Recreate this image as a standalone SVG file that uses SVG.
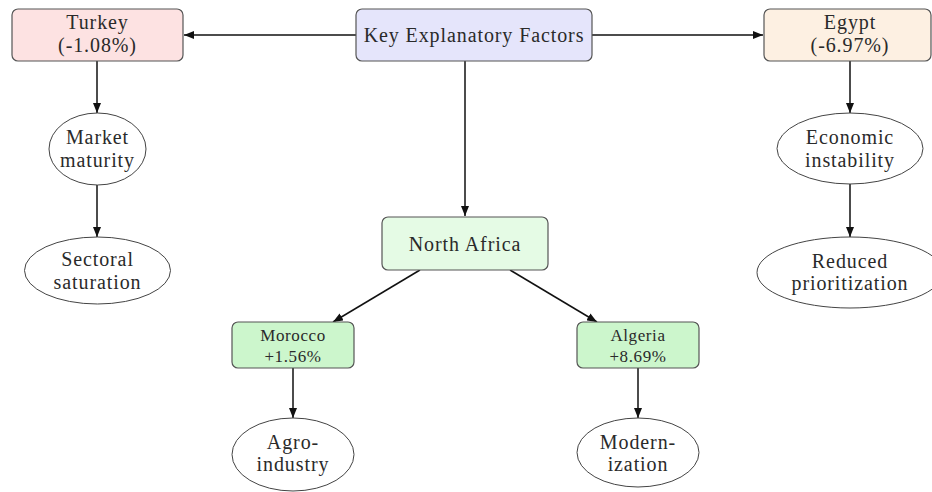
<svg xmlns="http://www.w3.org/2000/svg" width="932" height="492" viewBox="0 0 932 492">
<defs>
<marker id="ah" viewBox="0 0 10 8" refX="10" refY="4" markerWidth="10" markerHeight="8" markerUnits="userSpaceOnUse" orient="auto">
<path d="M0,0 L10,4 L0,8 Z" fill="#111"/>
</marker>
<style>
.box{stroke:#555;stroke-width:1.2}
.ell{fill:#fff;stroke:#444;stroke-width:1}
.t{font-family:"Liberation Serif","DejaVu Serif",serif;font-size:20px;letter-spacing:0.9px;fill:#2a2a2a;text-anchor:middle}
.s{font-size:17px;letter-spacing:0.6px}
.c{fill:none;stroke:#111;stroke-width:1.5;marker-end:url(#ah)}
</style>
</defs>
<rect width="932" height="492" fill="#fff"/>
<g id="connectors">
<line class="c" x1="356" y1="35" x2="184" y2="35"/>
<line class="c" x1="592" y1="35" x2="763" y2="35"/>
<line class="c" x1="465" y1="61" x2="465" y2="216"/>
<line class="c" x1="97" y1="61" x2="97" y2="113"/>
<line class="c" x1="97" y1="185" x2="97" y2="237"/>
<line class="c" x1="850" y1="61" x2="850" y2="113"/>
<line class="c" x1="850" y1="184" x2="850" y2="237"/>
<line class="c" x1="420" y1="270" x2="333" y2="322"/>
<line class="c" x1="510" y1="270" x2="597" y2="322"/>
<line class="c" x1="293" y1="368" x2="293" y2="418"/>
<line class="c" x1="638" y1="368" x2="638" y2="418"/>
</g>
<g id="turkey">
<rect class="box" x="12" y="9" width="171" height="52" rx="6" fill="#fde2e2"/>
<text class="t" x="97.5" y="29">Turkey</text>
<text class="t" x="97.5" y="52">(-1.08%)</text>
</g>
<g id="key">
<rect class="box" x="356" y="9" width="236" height="52" rx="6" fill="#e5e5fb"/>
<text class="t" x="474" y="42">Key Explanatory Factors</text>
</g>
<g id="egypt">
<rect class="box" x="764" y="9" width="167" height="52" rx="6" fill="#fdf0e2"/>
<text class="t" x="850" y="29">Egypt</text>
<text class="t" x="850" y="52">(-6.97%)</text>
</g>
<g id="market">
<ellipse class="ell" cx="97.5" cy="149" rx="48.5" ry="36"/>
<text class="t" x="97.5" y="144">Market</text>
<text class="t" x="97.5" y="167">maturity</text>
</g>
<g id="sectoral">
<ellipse class="ell" cx="97.5" cy="270.5" rx="73" ry="33.5"/>
<text class="t" x="97.5" y="266">Sectoral</text>
<text class="t" x="97.5" y="289">saturation</text>
</g>
<g id="economic">
<ellipse class="ell" cx="850" cy="148.5" rx="73" ry="35.5"/>
<text class="t" x="850" y="144">Economic</text>
<text class="t" x="850" y="167">instability</text>
</g>
<g id="reduced">
<ellipse class="ell" cx="850" cy="272.5" rx="93" ry="35.5"/>
<text class="t" x="850" y="268">Reduced</text>
<text class="t" x="850" y="290">prioritization</text>
</g>
<g id="northafrica">
<rect class="box" x="382" y="217" width="166" height="53" rx="6" fill="#e5fbe5"/>
<text class="t" x="465" y="251">North Africa</text>
</g>
<g id="morocco">
<rect class="box" x="232" y="322" width="122" height="46" rx="6" fill="#ccf6cc"/>
<text class="t s" x="293" y="341">Morocco</text>
<text class="t s" x="293" y="362">+1.56%</text>
</g>
<g id="algeria">
<rect class="box" x="577" y="322" width="122" height="46" rx="6" fill="#ccf6cc"/>
<text class="t s" x="638" y="341">Algeria</text>
<text class="t s" x="638" y="362">+8.69%</text>
</g>
<g id="agro">
<ellipse class="ell" cx="293" cy="454.5" rx="61" ry="36.5"/>
<text class="t" x="293" y="449">Agro-</text>
<text class="t" x="293" y="471">industry</text>
</g>
<g id="modern">
<ellipse class="ell" cx="638" cy="452.5" rx="61" ry="34.5"/>
<text class="t" x="638" y="449">Modern-</text>
<text class="t" x="638" y="471">ization</text>
</g>
</svg>
